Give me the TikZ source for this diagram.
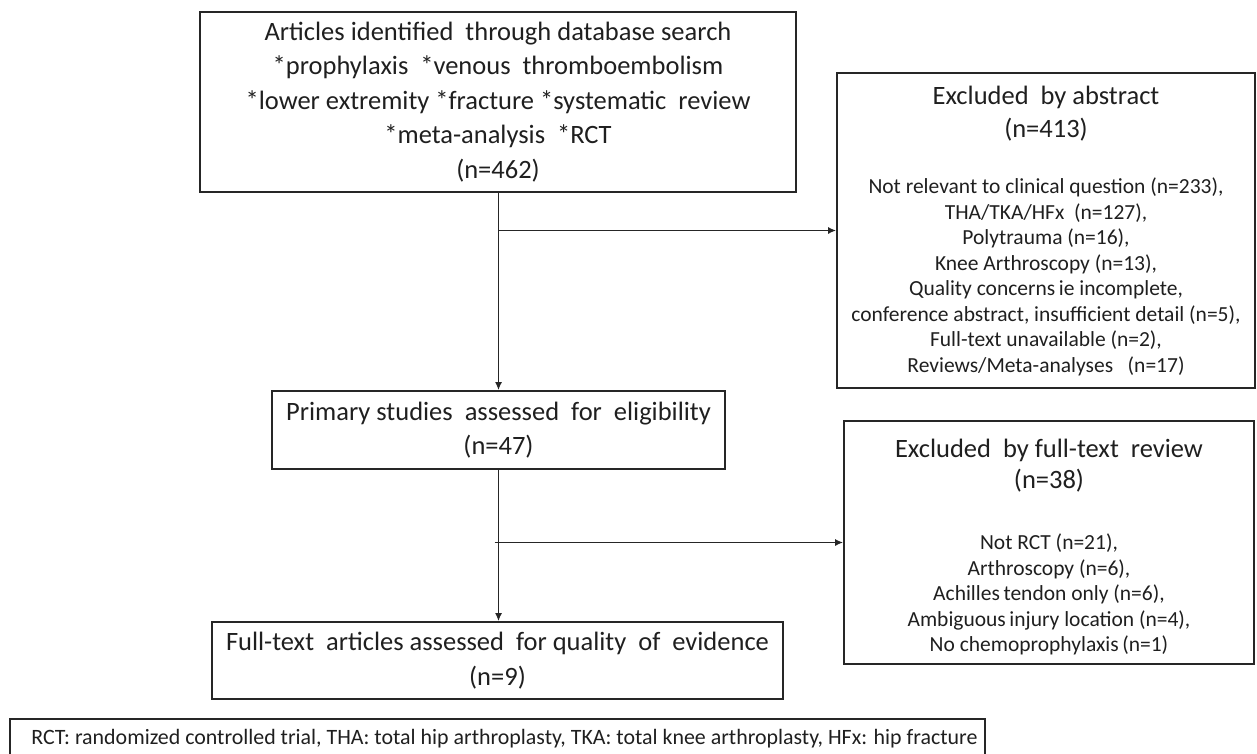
\documentclass[tikz,border=0pt]{standalone}
\usepackage{fontspec}
\setmainfont{Carlito}
\usetikzlibrary{arrows.meta}
\begin{document}
\begin{tikzpicture}[x=1pt,y=-1pt,
  box/.style={draw=black!85,line width=1.8pt,align=center,inner sep=0pt,text=black!88},
  txt/.style={align=center,inner sep=0pt,text=black!88},
  big/.style={font=\fontsize{26.5}{34.5}\selectfont},
  small/.style={font=\fontsize{21.5}{25.5}\selectfont},
  conn/.style={line width=1.3pt,draw=black!85,-{Latex[length=8pt,width=7pt]}}]
\useasboundingbox (0,0) rectangle (1257,754);
\node[box,big,minimum width=596pt,minimum height=180pt] (search) at (498,102)
  {Articles identified\ \ through database search\\
   *prophylaxis\ \ *venous\ \ thromboembolism\\
   *lower extremity *fracture *systematic\ \ review\\
   *meta-analysis\ \ *RCT\\
   (n=462)};
\node[box,minimum width=418pt,minimum height=315pt] (exclA) at (1046,230.5) {};
\node[txt,font=\fontsize{26.5}{33}\selectfont] (exclAt) at (1046,113.5) {Excluded\ \ by abstract\\(n=413)};
\node[txt,small] (exclAl) at (1046,277) {Not relevant to clinical question (n=233),\\
  THA/TKA/HFx\ \ (n=127),\\
  Polytrauma (n=16),\\
  Knee Arthroscopy (n=13),\\
  Quality concerns\,ie incomplete,\\
  conference abstract, insufficient detail (n=5),\\
  Full-text unavailable (n=2),\\
  Reviews/Meta-analyses\ \ \ (n=17)};
\node[box,big,minimum width=453pt,minimum height=78pt] (prim) at (498.5,430)
  {Primary studies\ \ assessed\ \ for\ \ eligibility\\(n=47)};
\node[box,minimum width=410pt,minimum height=243pt] (exclF) at (1049,542.5) {};
\node[txt,font=\fontsize{26.5}{31}\selectfont] (exclFt) at (1049,466) {Excluded\ \ by full-text\ \ review\\(n=38)};
\node[txt,small] (exclFl) at (1049,594.5) {Not RCT (n=21),\\
  Arthroscopy (n=6),\\
  Achilles\,tendon only (n=6),\\
  Ambiguous\,injury location (n=4),\\
  No chemoprophylaxis\,(n=1)};
\node[box,big,minimum width=571pt,minimum height=77pt] (full) at (497.5,660.5)
  {Full-text\ \ articles assessed\ \ for quality\ \ of\ \ evidence\\(n=9)};
\node[box,line width=1.4pt,minimum width=975pt,minimum height=38pt] (foot) at (497.5,738) {};
\node[txt,font=\fontsize{21.9}{26}\selectfont] (foottext) at (504.5,739)
  {RCT: randomized controlled trial, THA: total hip arthroplasty, TKA: total knee arthroplasty, HFx: hip fracture};
\draw[conn] (search.south -| prim.north) -- (prim.north);
\draw[conn] (exclA.west -| prim.north) -- (exclA.west);
\draw[conn] (prim.south) -- (prim.south |- full.north);
\draw[conn] ([xshift=-4pt]exclF.west -| prim.south) -- (exclF.west);
\end{tikzpicture}
\end{document}
